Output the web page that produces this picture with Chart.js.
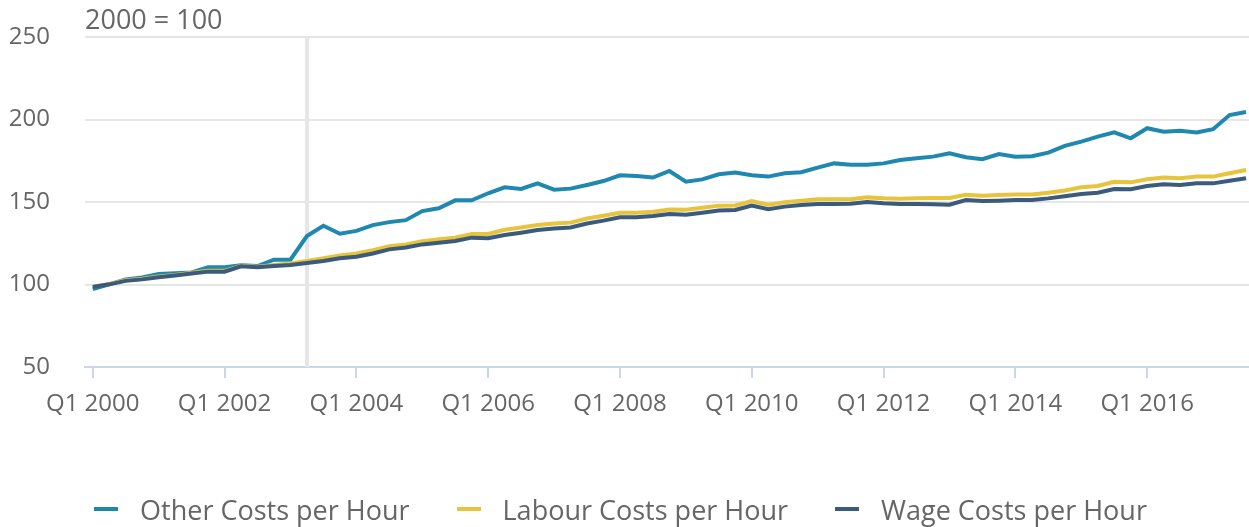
<!DOCTYPE html>
<html>
<head>
<meta charset="utf-8">
<script src="https://cdn.jsdelivr.net/npm/chart.js@4.4.1/dist/chart.umd.min.js"></script>
<style>
  html, body { margin: 0; padding: 0; background: #ffffff; }
  #wrap { position: relative; width: 1249px; height: 527px; overflow: hidden; }
  #c { position: absolute; left: 0; top: 0; }
  #legend { position: absolute; left: -4px; top: 491px; width: 1249px; height: 36px;
            display: flex; justify-content: center; align-items: center;
            font-family: "Open Sans", sans-serif; font-size: 27px; color: #666666; }
  .item { display: flex; align-items: center; margin: 0 23.5px; white-space: nowrap; }
  .sym { display: inline-block; width: 24px; height: 4px; margin-right: 22px; }
</style>
</head>
<body>
<div id="wrap">
  <canvas id="c" width="1249" height="527"></canvas>
  <div id="legend"></div>
</div>
<script>
// ---- data ----
const years = [2000, 2001, 2002, 2003, 2004, 2005, 2006, 2007, 2008, 2009, 2010, 2011, 2012, 2013, 2014, 2015, 2016, 2017];
const quarters = [];
years.forEach(y => { for (let q = 1; q <= 4; q++) quarters.push('Q' + q + ' ' + y); });
quarters.length = 71; // Q1 2000 .. Q3 2017

const tickIndices = [0, 8, 16, 24, 32, 40, 48, 56, 64];
const breakIndex = 13; // Q2 2003 marker line
const yTicks = [50, 100, 150, 200, 250];
const unitLabel = '2000 = 100';

const otherCosts = [
  97.2, 100.1, 103.1, 104.2, 106.3, 106.8, 107.3, 110.4, 110.4, 111.7,
  111.2, 115.0, 115.0, 129.4, 135.6, 130.8, 132.5, 136.0, 137.8, 139.0,
  144.5, 146.2, 151.0, 151.0, 155.3, 158.9, 157.9, 161.3, 157.5, 158.1,
  160.3, 162.7, 166.2, 165.8, 164.8, 168.8, 162.3, 163.7, 166.8, 167.8,
  166.2, 165.4, 167.4, 168.0, 170.8, 173.4, 172.6, 172.6, 173.4, 175.5,
  176.5, 177.5, 179.5, 177.1, 175.9, 179.1, 177.5, 177.7, 179.9, 184.0,
  186.6, 189.6, 192.2, 188.6, 194.7, 192.6, 193.2, 192.2, 194.1, 202.7,
  204.5
];
const labourCosts = [
  98.7, 100.3, 102.6, 103.5, 104.8, 105.8, 107.2, 108.3, 108.3, 111.3,
  110.8, 111.8, 112.8, 114.2, 116.0, 117.6, 118.8, 120.8, 123.2, 124.3,
  126.3, 127.4, 128.4, 130.6, 130.6, 133.2, 134.6, 136.0, 137.0, 137.5,
  140.0, 141.7, 143.5, 143.5, 144.1, 145.5, 145.3, 146.5, 147.8, 147.9,
  150.6, 148.3, 149.9, 150.8, 151.6, 151.6, 151.7, 152.8, 152.2, 151.9,
  152.2, 152.4, 152.4, 154.4, 153.8, 154.2, 154.6, 154.6, 155.6, 157.0,
  158.9, 159.7, 162.3, 161.9, 163.8, 164.8, 164.4, 165.4, 165.4, 167.4,
  169.4
];
const wageCosts = [
  98.5, 100.1, 102.2, 103.1, 104.4, 105.4, 106.6, 107.8, 107.8, 111.0,
  110.4, 111.2, 111.8, 113.0, 114.3, 115.9, 116.8, 118.8, 121.3, 122.4,
  124.3, 125.3, 126.4, 128.4, 128.0, 130.0, 131.4, 133.0, 134.0, 134.6,
  137.0, 138.7, 140.7, 140.7, 141.5, 142.7, 142.3, 143.5, 144.8, 145.2,
  147.8, 145.6, 147.2, 148.2, 148.8, 148.8, 148.9, 150.0, 149.2, 148.8,
  148.8, 148.6, 148.4, 151.2, 150.6, 150.8, 151.2, 151.2, 152.2, 153.5,
  154.8, 155.6, 157.9, 157.7, 159.7, 160.7, 160.3, 161.3, 161.3, 162.9,
  164.4
];

const seriesNames = ['Other Costs per Hour', 'Labour Costs per Hour', 'Wage Costs per Hour'];
const seriesColors = ['#1e88b1', '#e8c43d', '#3a5b7d'];
const seriesValues = [otherCosts, labourCosts, wageCosts];

const toPoints = arr => arr.map((v, i) => ({ x: i, y: v }));

const FONT = '"Open Sans", sans-serif';

const breakLine = {
  id: 'breakLine',
  beforeDatasetsDraw(chart) {
    const { ctx, chartArea, scales } = chart;
    const x = scales.x.getPixelForValue(breakIndex);
    ctx.save();
    ctx.fillStyle = '#e6e6e6';
    ctx.fillRect(Math.round(x) - 2, chartArea.top, 4, chartArea.bottom - chartArea.top);
    ctx.restore();
  }
};
const unitTitle = {
  id: 'unitTitle',
  afterDraw(chart) {
    const { ctx, chartArea } = chart;
    ctx.save();
    ctx.font = '27px ' + FONT;
    ctx.fillStyle = '#666666';
    ctx.textAlign = 'left';
    ctx.textBaseline = 'middle';
    ctx.fillText(unitLabel, chartArea.left, 21);
    ctx.restore();
  }
};

function draw() {
  const datasets = seriesNames.map((name, k) => ({
    label: name,
    data: toPoints(seriesValues[k]),
    borderColor: seriesColors[k],
    backgroundColor: seriesColors[k],
    borderWidth: 4,
    pointRadius: 0,
    tension: 0,
    fill: false,
    order: 3 - k
  }));

  const chart = new Chart(document.getElementById('c'), {
    type: 'line',
    data: { datasets },
    options: {
      responsive: false,
      animation: false,
      devicePixelRatio: 1,
      layout: { padding: { left: 0, right: 0, top: 37, bottom: 100 } },
      plugins: { legend: { display: false }, tooltip: { enabled: false }, title: { display: false } },
      scales: {
        x: {
          type: 'linear',
          min: -0.47,
          max: 70.18,
          afterBuildTicks: s => { s.ticks = tickIndices.map(v => ({ value: v })); },
          afterFit: s => { s.height = 60; s.paddingLeft = 0; s.paddingRight = 0; },
          ticks: {
            callback: v => quarters[v],
            font: { family: FONT, size: 24 },
            color: '#666666',
            maxRotation: 0,
            autoSkip: false,
            padding: 12
          },
          grid: { drawOnChartArea: false, drawTicks: true, tickLength: 11, color: '#ccd6eb', lineWidth: 2 },
          border: { display: true, color: '#ccd6eb', width: 2 }
        },
        y: {
          min: 50,
          max: 250,
          afterBuildTicks: s => { s.ticks = yTicks.map(v => ({ value: v })); },
          afterFit: s => { s.width = 85; s.paddingTop = 0; s.paddingBottom = 0; },
          ticks: {
            font: { family: FONT, size: 24 },
            color: '#666666',
            padding: 35
          },
          grid: { color: '#e6e6e6', lineWidth: 2, drawTicks: false },
          border: { display: false }
        }
      }
    },
    plugins: [breakLine, unitTitle]
  });

  const legend = document.getElementById('legend');
  chart.data.datasets.forEach(ds => {
    const item = document.createElement('div');
    item.className = 'item';
    const sym = document.createElement('span');
    sym.className = 'sym';
    sym.style.background = ds.borderColor;
    const txt = document.createElement('span');
    txt.textContent = ds.label;
    item.appendChild(sym);
    item.appendChild(txt);
    legend.appendChild(item);
  });
}

if (document.fonts && document.fonts.load) {
  Promise.all([document.fonts.load('24px "Open Sans"'), document.fonts.load('27px "Open Sans"')]).then(draw, draw);
} else { draw(); }
</script>
</body>
</html>
